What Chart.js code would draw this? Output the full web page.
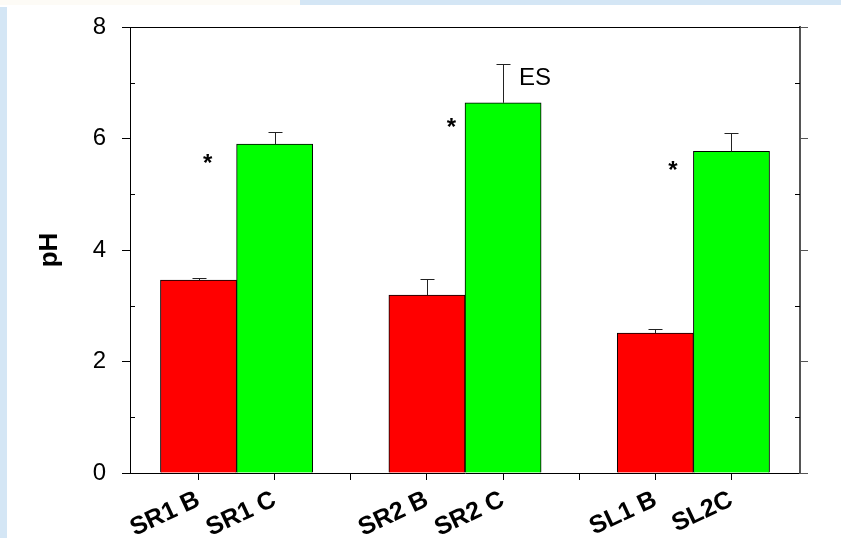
<!DOCTYPE html>
<html>
<head>
<meta charset="utf-8">
<title>pH</title>
<script src="https://cdn.jsdelivr.net/npm/chart.js@4/dist/chart.umd.min.js"></script>
<style>
  body { margin: 0; background: #fff; }
  #wrap { width: 841px; height: 538px; }
</style>
</head>
<body>
<div id="wrap"><canvas id="myChart" width="841" height="538"></canvas></div>
<script>
// slot labels (empty slots are the gaps between groups)
const xLabels = ["SR1 B", "SR1 C", "", "SR2 B", "SR2 C", "", "SL1 B", "SL2C"];

const bSlots = [0, 3, 6];
const bValues = [3.46, 3.19, 2.51];
const bErrors = [0.04, 0.29, 0.07];

const cSlots = [1, 4, 7];
const cValues = [5.90, 6.64, 5.77];
const cErrors = [0.22, 0.70, 0.33];

const yTicks = [0, 2, 4, 6, 8];
const yMinor = [1, 3, 5, 7];

// annotations in data units
const noteText = ["*", "*", "*", "ES"];
const noteX = [0.12, 3.32, 6.23, 4.42];
const noteY = [5.62, 6.28, 5.50, 7.07];

const FONT = "'Liberation Sans', Arial, sans-serif";

const bgPlugin = {
    id: 'bg',
    beforeDraw(chart) {
        const c = chart.ctx;
        c.save();
        c.fillStyle = '#ffffff';
        c.fillRect(0, 0, chart.width, chart.height);
        c.fillStyle = '#fdfbf6';
        c.fillRect(0, 0, 300, 5);
        c.fillStyle = '#d4e6f5';
        c.fillRect(300, 0, chart.width - 300, 5);
        c.fillRect(0, 7, 7, chart.height - 7);
        c.restore();
    }
};

const framePlugin = {
    id: 'frame',
    afterDraw(chart) {
        const c = chart.ctx;
        const a = chart.chartArea;
        const y = chart.scales.y;
        c.save();
        c.strokeStyle = '#000';
        c.lineWidth = 1;
        // top border
        c.beginPath();
        c.moveTo(a.left, Math.round(a.top) + 0.5);
        c.lineTo(a.right, Math.round(a.top) + 0.5);
        c.stroke();
        // minor ticks pointing inward
        yMinor.forEach(v => {
            const py = Math.round(y.getPixelForValue(v)) + 0.5;
            c.beginPath();
            c.moveTo(a.left, py); c.lineTo(a.left + 5, py);
            c.moveTo(a.right, py); c.lineTo(a.right - 5, py);
            c.stroke();
        });
        // annotations
        c.fillStyle = '#000';
        c.textAlign = 'center';
        c.textBaseline = 'middle';
        const xs = chart.scales.x;
        noteText.forEach((t, i) => {
            c.font = (t === '*' ? 'bold 24px ' : '24px ') + FONT;
            c.fillText(t, xs.getPixelForValue(noteX[i]), y.getPixelForValue(noteY[i]) + (t === '*' ? 5 : 0));
        });
        c.restore();
    }
};

const errorPlugin = {
    id: 'errbars',
    afterDatasetsDraw(chart) {
        const c = chart.ctx;
        const y = chart.scales.y;
        c.save();
        c.strokeStyle = '#222';
        c.lineWidth = 1;
        chart.data.datasets.forEach((ds, di) => {
            const meta = chart.getDatasetMeta(di);
            meta.data.forEach((bar, i) => {
                const top = Math.round(y.getPixelForValue(ds.data[i].y + ds.errors[i])) + 0.5;
                const x = Math.round(bar.x) + 0.5;
                c.beginPath();
                c.moveTo(x, bar.y);
                c.lineTo(x, top);
                c.moveTo(x - 7, top);
                c.lineTo(x + 7, top);
                c.stroke();
            });
        });
        c.restore();
    }
};

const ctx = document.getElementById('myChart');

const chart = new Chart(ctx, {
    type: 'bar',
    data: {
        datasets: [
            {
                label: 'B',
                data: bSlots.map((s, i) => ({ x: s, y: bValues[i] })),
                errors: bErrors,
                backgroundColor: '#ff0000',
                borderColor: '#000',
                borderWidth: 1
            },
            {
                label: 'C',
                data: cSlots.map((s, i) => ({ x: s, y: cValues[i] })),
                errors: cErrors,
                backgroundColor: '#00ff00',
                borderColor: '#000',
                borderWidth: 1
            }
        ]
    },
    options: {
        responsive: false,
        animation: false,
        datasets: {
            bar: { grouped: false, barPercentage: 1, categoryPercentage: 1 }
        },
        layout: { padding: { top: 27, left: 0, right: 0, bottom: 0 } },
        plugins: {
            legend: { display: false },
            tooltip: { enabled: false }
        },
        scales: {
            x: {
                type: 'linear',
                offset: false,
                min: -0.9,
                max: 7.9,
                afterBuildTicks: s => { s.ticks = xLabels.map((_, i) => ({ value: i })); },
                afterFit: s => { s.height = 65; s.paddingLeft = 0; s.paddingRight = 0; },
                ticks: {
                    autoSkip: false,
                    minRotation: 25,
                    maxRotation: 25,
                    padding: 5,
                    color: '#000',
                    font: { family: FONT, size: 25, weight: 'bold' },
                    callback: v => xLabels[v]
                },
                grid: { drawOnChartArea: false, offset: false, tickLength: 7, color: '#000' },
                border: { color: '#000', width: 1 }
            },
            y: {
                min: 0,
                max: 8,
                afterBuildTicks: s => { s.ticks = yTicks.map(v => ({ value: v })); },
                afterFit: s => { s.width = 130; s.paddingTop = 0; s.paddingBottom = 0; },
                ticks: {
                    padding: 16,
                    color: '#000',
                    font: { family: FONT, size: 24 }
                },
                title: {
                    display: true,
                    text: 'pH',
                    color: '#000',
                    font: { family: FONT, size: 26, weight: 'bold' },
                    padding: { top: 34, bottom: 0 }
                },
                grid: { drawOnChartArea: false, tickLength: 8, color: '#000' },
                border: { color: '#000', width: 1 }
            },
            y2: {
                position: 'right',
                min: 0,
                max: 8,
                afterBuildTicks: s => { s.ticks = yTicks.map(v => ({ value: v })); },
                afterFit: s => { s.width = 41; s.paddingTop = 0; s.paddingBottom = 0; },
                ticks: { display: false },
                grid: { drawOnChartArea: false, tickLength: 8, color: '#555' },
                border: { color: '#555', width: 2 }
            }
        }
    },
    plugins: [bgPlugin, errorPlugin, framePlugin]
});
</script>
</body>
</html>
